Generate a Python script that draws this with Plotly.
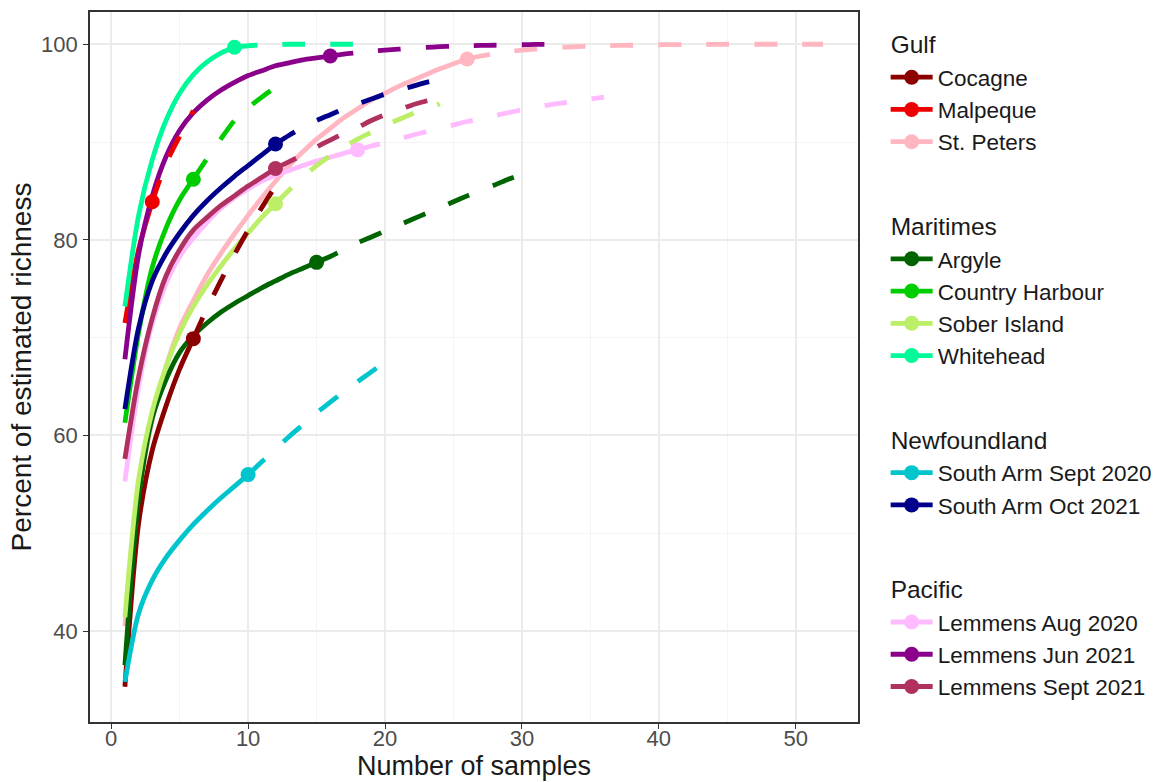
import plotly.graph_objects as go

# Sample-size based rarefaction (1..n) and extrapolation (n+1..2n) of
# percent of estimated richness, one list per site.
sites = ["Cocagne", "Malpeque", "St. Peters",
         "Argyle", "Country Harbour", "Sober Island", "Whitehead",
         "South Arm Sept 2020", "South Arm Oct 2021",
         "Lemmens Aug 2020", "Lemmens Jun 2021", "Lemmens Sept 2021"]
regions = ["Gulf", "Gulf", "Gulf",
           "Maritimes", "Maritimes", "Maritimes", "Maritimes",
           "Newfoundland", "Newfoundland",
           "Pacific", "Pacific", "Pacific"]
n_samples = [6, 3, 26, 15, 6, 12, 9, 10, 12, 18, 16, 12]
colors = ["#8B0000", "#EE0000", "#FFB6C1",
          "#006400", "#00CD00", "#BCEE68", "#00FA9A",
          "#00C5CD", "#00008B",
          "#FFBBFF", "#8B008B", "#B03060"]

cocagne = [34.3, 51.0, 58.5, 63.0, 66.8, 69.9,
           73.0, 75.8, 78.5, 81.0, 83.3, 85.5]
malpeque = [71.5, 79.0, 83.9, 87.8, 90.6, 93.2]
st_peters = [40.5, 54.0, 61.5, 67.0, 71.0, 73.8, 76.4, 78.6, 80.6, 82.5,
             84.3, 86.0, 87.6, 89.0, 90.3, 91.4, 92.5, 93.4, 94.3, 95.0,
             95.7, 96.3, 96.9, 97.5, 98.0, 98.5,
             98.8, 99.05, 99.25, 99.4, 99.5, 99.6, 99.7, 99.75, 99.8, 99.85,
             99.88, 99.9, 99.92, 99.95, 99.96, 99.97, 99.98, 99.99, 100.0, 100.0,
             100.0, 100.0, 100.0, 100.0, 100.0, 100.0]
argyle = [36.5, 53.5, 61.8, 65.7, 68.5, 70.2, 71.5, 72.6, 73.5, 74.3,
          75.1, 75.8, 76.5, 77.1, 77.7,
          78.3, 79.0, 79.7, 80.3, 80.9, 81.5, 82.1, 82.7, 83.3, 83.9,
          84.5, 85.1, 85.6, 86.2, 86.7]
country_harbour = [61.3, 70.5, 77.2, 81.2, 84.1, 86.2,
                   88.3, 90.3, 92.2, 93.5, 94.6, 95.6]
sober_island = [41.4, 55.5, 62.5, 67.0, 70.5, 73.2, 75.4, 77.3, 79.1, 80.7,
                82.3, 83.7,
                85.1, 86.4, 87.6, 88.6, 89.5, 90.3, 91.0, 91.7, 92.3, 92.9,
                93.4, 93.9]
whitehead = [73.2, 82.5, 88.2, 92.2, 95.0, 96.9, 98.2, 99.1, 99.7,
             99.85, 99.93, 99.97, 100.0, 100.0, 100.0, 100.0, 100.0, 100.0]
south_arm_2020 = [34.8, 41.8, 45.2, 47.5, 49.3, 50.9, 52.3, 53.6, 54.8, 56.0,
                  57.3, 58.6, 59.9, 61.1, 62.3, 63.4, 64.5, 65.5, 66.5, 67.5]
south_arm_2021 = [62.7, 71.0, 75.8, 78.6, 80.7, 82.5, 84.0, 85.3, 86.5, 87.6,
                  88.7, 89.8,
                  90.7, 91.5, 92.2, 92.8, 93.4, 93.9, 94.4, 94.9, 95.3, 95.7,
                  96.1, 96.4]
lemmens_aug_2020 = [55.3, 65.0, 71.5, 75.5, 78.3, 80.2, 81.8, 83.2, 84.3, 85.2,
                    86.0, 86.6, 87.1, 87.6, 88.05, 88.45, 88.85, 89.2,
                    89.6, 89.95, 90.3, 90.7, 91.05, 91.4, 91.75, 92.1, 92.4,
                    92.7, 93.0, 93.3, 93.55, 93.8, 94.0, 94.2, 94.4, 94.6]
lemmens_jun_2021 = [67.8, 78.5, 84.5, 88.5, 91.2, 93.0, 94.3, 95.3, 96.1, 96.8,
                    97.3, 97.8, 98.1, 98.4, 98.6, 98.8,
                    99.0, 99.15, 99.3, 99.4, 99.5, 99.6, 99.68, 99.75, 99.8,
                    99.85, 99.88, 99.9, 99.93, 99.95, 99.98, 100.0]
lemmens_sept_2021 = [57.6, 66.0, 72.0, 76.3, 79.0, 81.0, 82.3, 83.5, 84.5, 85.5,
                     86.4, 87.3,
                     88.0, 88.7, 89.5, 90.2, 90.9, 91.5, 92.2, 92.8, 93.3, 93.8,
                     94.2, 94.6]

richness = [cocagne, malpeque, st_peters, argyle, country_harbour, sober_island,
            whitehead, south_arm_2020, south_arm_2021, lemmens_aug_2020,
            lemmens_jun_2021, lemmens_sept_2021]

LINE_W = 4.8
fig = go.Figure()

# Rarefied (observed range) curves, solid
for site, reg, n, col, vals in zip(sites, regions, n_samples, colors, richness):
    xs = list(range(1, n + 1))
    fig.add_trace(go.Scatter(
        x=xs, y=vals[:n], mode="lines", showlegend=False, hoverinfo="skip",
        line=dict(color=col, width=LINE_W, shape="spline", smoothing=0.8),
        legendgroup=reg))

# Extrapolated curves, dashed
for site, reg, n, col, vals in zip(sites, regions, n_samples, colors, richness):
    xs = list(range(n, len(vals) + 1))
    fig.add_trace(go.Scatter(
        x=xs, y=vals[n - 1:], mode="lines", showlegend=False, hoverinfo="skip",
        line=dict(color=col, width=LINE_W, dash="23px,25px",
                  shape="spline", smoothing=0.8),
        legendgroup=reg))

# Observed sample size points (also carry the legend entries)
for site, reg, n, col, vals in zip(sites, regions, n_samples, colors, richness):
    fig.add_trace(go.Scatter(
        x=[n], y=[vals[n - 1]], mode="lines+markers", name=site,
        legendgroup=reg, legendgrouptitle=dict(text=reg),
        marker=dict(color=col, size=15), line=dict(color=col, width=LINE_W)))

grid_major = "#EBEBEB"
grid_minor = "#F4F4F4"
tick_font = dict(size=22, color="#4D4D4D")
fig.update_layout(
    width=1162, height=782,
    margin=dict(l=90, r=304, t=12, b=60, autoexpand=False),
    paper_bgcolor="white", plot_bgcolor="white",
    font=dict(family="Liberation Sans, Arial, sans-serif", color="#1A1A1A"),
    legend=dict(
        x=1.036, y=0.987, xanchor="left", yanchor="top",
        font=dict(size=22.5, color="#1A1A1A"),
        grouptitlefont=dict(size=24.5, color="#1A1A1A"),
        tracegroupgap=50, itemwidth=42, bgcolor="rgba(0,0,0,0)"),
    xaxis=dict(
        range=[-1.55, 54.55], tick0=0, dtick=10, automargin=False,
        showgrid=True, gridcolor=grid_major, gridwidth=1.6,
        minor=dict(dtick=5, tick0=0, showgrid=True, gridcolor=grid_minor,
                   gridwidth=0.9),
        zeroline=False, showline=True, mirror=True,
        linecolor="#333333", linewidth=1.6,
        ticks="outside", ticklen=5, tickcolor="#333333", tickwidth=1.4,
        tickfont=tick_font, ticklabelstandoff=-9,
        title=dict(text="Number of samples", font=dict(size=27, color="#1A1A1A"),
                   standoff=2)),
    yaxis=dict(
        range=[30.7, 103.3], tick0=0, dtick=20, automargin=False,
        showgrid=True, gridcolor=grid_major, gridwidth=1.6,
        minor=dict(dtick=10, tick0=0, showgrid=True, gridcolor=grid_minor,
                   gridwidth=0.9),
        zeroline=False, showline=True, mirror=True,
        linecolor="#333333", linewidth=1.6,
        ticks="outside", ticklen=5, tickcolor="#333333", tickwidth=1.4,
        tickfont=tick_font, ticklabelstandoff=1,
        title=dict(text="Percent of estimated richness",
                   font=dict(size=28, color="#1A1A1A"), standoff=1)),
)

fig.write_html("out.html")
